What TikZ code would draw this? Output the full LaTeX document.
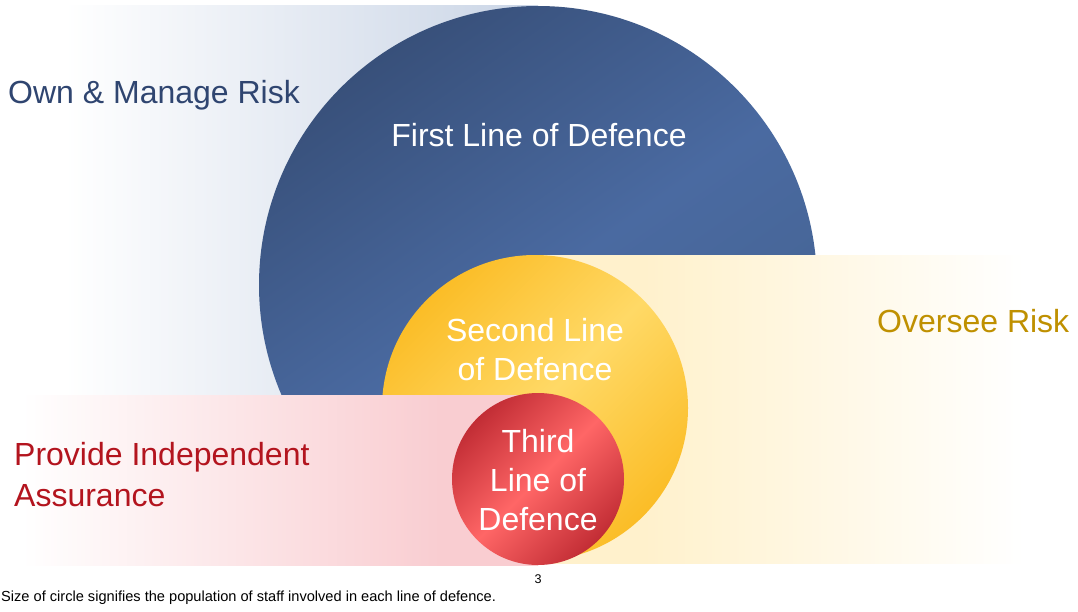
\documentclass[tikz,border=0pt]{standalone}
\usepackage{fontspec}
\setmainfont{Liberation Sans}
\definecolor{bluedark}{HTML}{38507A}
\definecolor{bluelight}{HTML}{4A6AA1}
\definecolor{blueedge}{HTML}{44628F}
\definecolor{yeldark}{HTML}{FBBD27}
\definecolor{yellight}{HTML}{FFD966}
\definecolor{reddark}{HTML}{C22D35}
\definecolor{redlight}{HTML}{FF6666}
\definecolor{bband}{HTML}{CAD5E6}
\definecolor{pband}{HTML}{F9CDD1}
\definecolor{yband}{HTML}{FFF1CC}
\definecolor{owntext}{HTML}{2F4570}
\definecolor{providetext}{HTML}{B3141E}
\definecolor{overseetext}{HTML}{BF9000}
\pgfdeclarehorizontalshading{blueband}{100bp}{color(0bp)=(white); color(31bp)=(white); color(75bp)=(bband); color(100bp)=(bband)}
\pgfdeclarehorizontalshading{pinkband}{100bp}{color(0bp)=(white); color(27bp)=(white); color(66bp)=(pband); color(100bp)=(pband)}
\pgfdeclarehorizontalshading{yelband}{100bp}{color(0bp)=(yband); color(35bp)=(yband); color(70bp)=(white); color(100bp)=(white)}
\tikzset{
  lbl/.style={font=\fontsize{32}{39}\selectfont, inner sep=0pt},
  smalltxt/.style={font=\fontsize{14.6}{17}\selectfont, inner sep=0pt, text=black},
  disc/.style={shading angle=45}
}
\begin{document}
\begin{tikzpicture}[x=1pt,y=1pt]
\useasboundingbox (0,0) rectangle (1078,-611);
\fill[white] (0,0) rectangle (1078,-611);
% bands and circles
\shade[shading=blueband] (0,-5) rectangle (538,-395);
\shade[top color=bluedark, bottom color=blueedge, middle color=bluelight, shading angle=35] (538,-285) circle (279pt);
\shade[shading=yelband] (535,-255) rectangle (1078,-563);
\shade[top color=yeldark, bottom color=yeldark, middle color=yellight, disc] (535,-408) circle (153pt);
\shade[shading=pinkband] (0,-395) rectangle (538,-565);
\shade[top color=reddark, bottom color=reddark, middle color=redlight, disc] (538,-479) circle (86pt);
% labels
\node[lbl, text=owntext, anchor=base west] (own) at (8,-103) {Own \& Manage Risk};
\node[lbl, text=white, anchor=base] (first) at (539,-146) {First Line of Defence};
\node[lbl, text=overseetext, anchor=base west] (oversee) at (877,-332) {Oversee Risk};
\node[lbl, text=white, align=center, anchor=north] (second) at (535,-318) {Second Line\\of Defence};
\node[lbl, text=white, align=center, anchor=north] (third) at (538,-429) {Third\\Line of\\Defence};
\node[lbl, text=providetext, align=left, anchor=north west] (provide) at (14,-442) {Provide Independent\\[2pt]Assurance};
\node[smalltxt, font=\fontsize{12.6}{15}\selectfont, anchor=base] (page) at (538,-583) {3};
\node[smalltxt, anchor=base west] (note) at (1,-601) {Size of circle signifies the population of staff involved in each line of defence.};
\end{tikzpicture}
\end{document}
